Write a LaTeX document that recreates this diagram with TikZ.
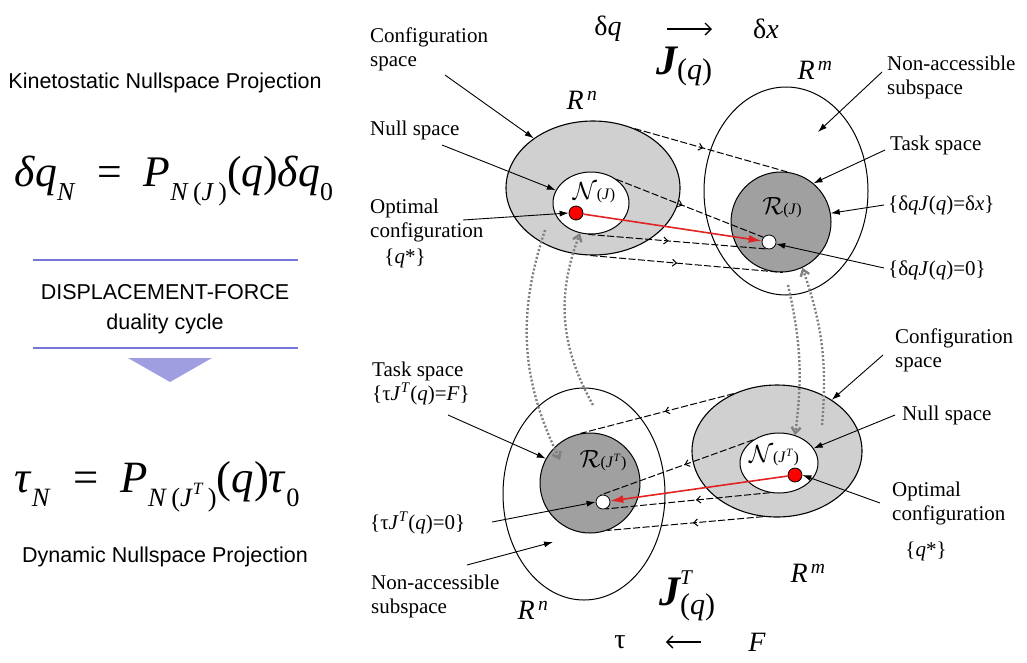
\documentclass[tikz,border=0pt]{standalone}
\usepackage{fontspec}
\usepackage{graphicx}
\setmainfont{Liberation Serif}
\newfontfamily\slidefont{Liberation Sans}
\usetikzlibrary{positioning, shapes.geometric, arrows.meta, decorations.markings}

\definecolor{duallilac}{RGB}{118,118,214}
\definecolor{trililac}{RGB}{158,158,224}
\definecolor{cfggray}{RGB}{208,208,208}
\definecolor{taskgray}{RGB}{160,160,160}
\definecolor{arrowred}{RGB}{225,35,35}

\newcommand{\lblsize}{\fontsize{21}{24}\selectfont}
\newcommand{\slidesize}{\slidefont\fontsize{21.5}{24}\selectfont}
\newcommand{\eqsub}[1]{\raisebox{-0.32em}{\fontsize{26}{26}\selectfont #1}}

\begin{document}
\begin{tikzpicture}[
    x=1pt, y=-1pt,
    cfg/.style={ellipse, draw, fill=cfggray, line width=1.1pt, inner sep=0pt},
    nul/.style={ellipse, draw, fill=white, line width=1pt, inner sep=0pt},
    outer/.style={ellipse, draw, line width=1pt, inner sep=0pt},
    task/.style={circle, draw, fill=taskgray, line width=1pt, minimum size=100pt, inner sep=0pt},
    dot/.style={circle, draw, line width=0.8pt, minimum size=14pt, inner sep=0pt},
    lbl/.style={font=\lblsize, align=left, inner sep=0pt, anchor=west},
    big/.style={font=\fontsize{28}{28}\selectfont, inner sep=0pt},
    ptr/.style={-{Latex[length=9pt, width=6pt]}, line width=0.9pt},
    map/.style={dash pattern=on 7pt off 2.5pt, line width=1pt, postaction={decorate},
        decoration={markings, mark=at position 0.45 with {\arrow{Straight Barb[length=4pt, width=7pt]}}}},
    sol/.style={-{Latex[length=13pt, width=8pt]}, arrowred, line width=1.6pt},
    dual/.style={black!50, dash pattern=on 2pt off 2pt, line width=2.4pt, -{Straight Barb[length=6pt, width=9pt]}}
]
\useasboundingbox (0,0) rectangle (1027,662);

% ================= LEFT PANEL =================
\node[font=\slidesize] (kinTitle) at (165,83) {Kinetostatic Nullspace Projection};
\node (kinEq) at (174,181) {\resizebox{318pt}{!}{\fontsize{44}{44}\selectfont
    \textit{δq}\eqsub{\textit{N}}\enspace=\enspace\textit{P}\eqsub{\textit{N}\,(\textit{J}\,)}(\textit{q})\textit{δq}\eqsub{0}}};
\draw[duallilac, line width=1.2pt] (33,260) -- (298,260);
\node[font=\slidesize] (dualTop) at (165,292) {DISPLACEMENT-FORCE};
\node[font=\slidesize] (dualBot) at (165,324) {duality cycle};
\draw[duallilac, line width=1.2pt] (33,348) -- (298,348);
\fill[trililac] (128,358) -- (212,358) -- (170,382) -- cycle;
\node (dynEq) at (157,487) {\resizebox{285pt}{!}{\fontsize{44}{44}\selectfont
    \textit{τ}\eqsub{\textit{N}}\enspace=\enspace\textit{P}\eqsub{\textit{N}\,(\textit{J}\raisebox{0.45em}{\fontsize{17}{17}\selectfont\textit{T}}\,)}(\textit{q})\textit{τ}\eqsub{0}}};
\node[font=\slidesize] (dynTitle) at (165,557) {Dynamic Nullspace Projection};

% ================= TOP: dq -> dx =================
\node[outer, minimum width=164pt, minimum height=208pt] (spaceA) at (786,191) {};
\node[cfg, minimum width=174pt, minimum height=134pt] (cfgA) at (593,188) {};
\node[nul, minimum width=76pt, minimum height=62pt] (nullA) at (591,203) {};
\node[task] (taskA) at (781,222) {};
\node[dot, fill=red] (optA) at (576,213) {};
\node[dot, fill=white] (zeroA) at (769,242) {};

\node[font=\fontsize{24}{24}\selectfont] (txtNullA) at (594,193) {$\mathcal{N}${\fontsize{16}{16}\selectfont(\textit{J})}};
\node[font=\fontsize{24}{24}\selectfont] (txtTaskA) at (782,208) {$\mathcal{R}${\fontsize{16}{16}\selectfont(\textit{J})}};

\draw[map] (cfgA.55) -- (taskA.83);
\draw[map] (nullA.43) -- (zeroA.140);
\draw[map] (nullA.265) -- (zeroA.250);
\draw[map] (cfgA.268) -- (taskA.272);
\draw[sol] (optA) -- (zeroA);

\node[big] (dq) at (608,29) {δ\textit{q}};
\node[big] (dx) at (766,29) {δ\textit{x}};
\draw[-{Straight Barb[length=6pt, width=12pt]}, line width=1.4pt, shorten <=45pt, shorten >=41pt] (dq) -- (dx);
\node (Jq) at (684,66) {{\fontsize{42}{42}\selectfont\bfseries\itshape J}{\fontsize{30}{30}\selectfont\raisebox{-5pt}{(\textit{q})}}};
\node[big] (RnA) at (582,100) {\textit{R}\textsuperscript{\,\textit{n}}};
\node[big] (RmA) at (815,70) {\textit{R}\textsuperscript{\,\textit{m}}};

% labels, top
\node[lbl] (lblCfgA) at (370,49) {Configuration\\space};
\node[lbl] (lblNullA) at (370,130) {Null space};
\node[lbl] (lblOptA) at (370,220) {Optimal\\configuration};
\node[font=\lblsize] (lblQA) at (405,258) {\{\textit{q}*\}};
\node[lbl] (lblNonA) at (887,77) {Non-accessible\\subspace};
\node[lbl] (lblTaskA) at (890,145) {Task space};
\node[lbl] (lblRngA) at (888,205) {\{δ\textit{qJ}(\textit{q})=δ\textit{x}\}};
\node[lbl] (lblZeroA) at (888,270) {\{δ\textit{qJ}(\textit{q})=0\}};

\coordinate (tCfgA) at (445,75);
\coordinate (tNullA) at (442,145);
\coordinate (tOptA) at (463,220);
\coordinate (tNonA) at (882,72);
\coordinate (hNonA) at (818,132);
\coordinate (tTaskA) at (885,150);
\coordinate (tRngA) at (884,205);
\coordinate (tZeroA) at (884,268);

\draw[ptr] (tCfgA) -- (cfgA.140);
\draw[ptr] (tNullA) -- (nullA.160);
\draw[ptr] (tOptA) -- (optA.west);
\draw[ptr] (tNonA) -- (hNonA);
\draw[ptr] (tTaskA) -- (taskA.50);
\draw[ptr] (tRngA) -- (taskA.10);
\draw[ptr] (tZeroA) -- (zeroA.-15);

% ================= BOTTOM: F -> tau =================
\node[outer, minimum width=162pt, minimum height=212pt] (spaceB) at (584,494) {};
\node[task] (taskB) at (590,483) {};
\node[cfg, minimum width=170pt, minimum height=132pt] (cfgB) at (777,451) {};
\node[nul, minimum width=78pt, minimum height=60pt] (nullB) at (779,463) {};
\node[dot, fill=red] (optB) at (795,475) {};
\node[dot, fill=white] (zeroB) at (603,502) {};

\node[font=\fontsize{24}{24}\selectfont] (txtTaskB) at (603,461) {$\mathcal{R}${\fontsize{16}{16}\selectfont(\textit{J}\textsuperscript{\textit{T}})}};
\node[font=\fontsize{24}{24}\selectfont] (txtNullB) at (774,456) {$\mathcal{N}${\fontsize{16}{16}\selectfont(\textit{J}\textsuperscript{\textit{T}})}};

\draw[map] (cfgB.127) -- (taskB.101);
\draw[map] (nullB.138) -- (zeroB.110);
\draw[map] (nullB.253) -- (zeroB.290);
\draw[map] (cfgB.258) -- (taskB.290);
\draw[sol] (optB) -- (zeroB);

\node[big] (tau) at (620,642) {τ};
\node[big] (F) at (757,642) {\textit{F}};
\draw[-{Straight Barb[length=6pt, width=12pt]}, line width=1.4pt, shorten <=47pt, shorten >=40pt] (F) -- (tau);
\node (JT) at (687,596) {{\fontsize{42}{42}\selectfont\bfseries\itshape J}\makebox[0pt][l]{\fontsize{21}{21}\selectfont\raisebox{21pt}{\textit{T}}}{\fontsize{30}{30}\selectfont\raisebox{-9pt}{(\textit{q})}}};
\node[big] (RnB) at (533,610) {\textit{R}\textsuperscript{\,\textit{n}}};
\node[big] (RmB) at (808,573) {\textit{R}\textsuperscript{\,\textit{m}}};

% labels, bottom
\node[lbl] (lblCfgB) at (895,350) {Configuration\\space};
\node[lbl] (lblNullB) at (902,415) {Null space};
\node[lbl] (lblOptB) at (892,503) {Optimal\\configuration};
\node[font=\lblsize] (lblQB) at (926,551) {\{\textit{q}*\}};
\node[lbl] (lblTaskB) at (372,383) {Task space\\\{τ\textit{J}\textsuperscript{\textit{T}}(\textit{q})=\textit{F}\}};
\node[lbl] (lblZeroB) at (370,523) {\{τ\textit{J}\textsuperscript{\textit{T}}(\textit{q})=0\}};
\node[lbl] (lblNonB) at (371,596) {Non-accessible\\subspace};

\coordinate (tCfgB) at (883,355);
\coordinate (tNullB) at (895,415);
\coordinate (tOptB) at (880,503);
\coordinate (tTaskB) at (448,415);
\coordinate (tZeroB) at (492,522);
\coordinate (tNonB) at (467,565);
\coordinate (hNonB) at (553,542);

\draw[ptr] (tCfgB) -- (cfgB.43);
\draw[ptr] (tNullB) -- (nullB.23);
\draw[ptr] (tOptB) -- (optB.east);
\draw[ptr] (tTaskB) -- (taskB.151);
\draw[ptr] (tZeroB) -- (zeroB.west);
\draw[ptr] (tNonB) -- (hNonB);

% ================= DUALITY ARCS =================
\coordinate (dA0) at (593,405);
\coordinate (dB0) at (545,230);
\coordinate (dB1) at (560,460);
\coordinate (dC0) at (822,425);
\coordinate (dD0) at (788,285);

\draw[dual] (dA0) to[bend left=25] (nullA.250);
\draw[dual] (dB0) to[bend right=22] (dB1);
\draw[dual] (dC0) to[bend right=12] (taskA.295);
\draw[dual] (dD0) to[bend left=10] (nullB.60);

\end{tikzpicture}
\end{document}
